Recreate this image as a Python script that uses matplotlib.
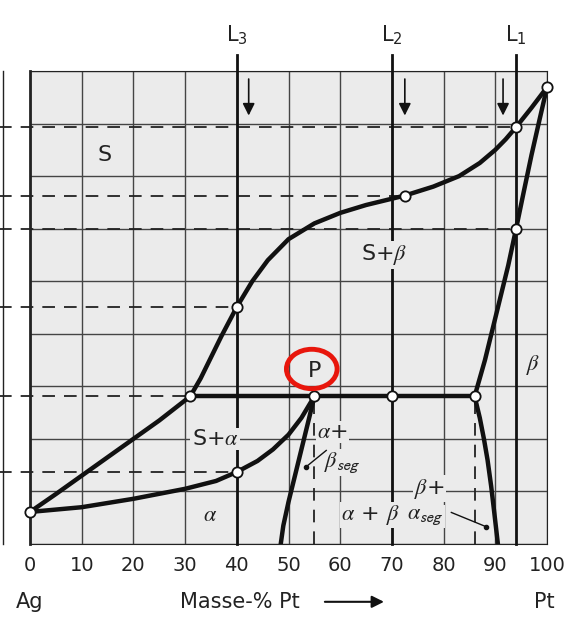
import matplotlib.pyplot as plt
import numpy as np
from matplotlib.patches import Ellipse
from matplotlib.lines import Line2D

plt.rcParams['mathtext.fontset'] = 'stix'

W, H = 574, 617
fig = plt.figure(figsize=(W / 100, H / 100), dpi=100)
ax = fig.add_axes([30 / W, (H - 544) / H, 517 / W, 473 / H])
ax.set_facecolor('#ebebeb')
ax.set_xlim(0, 100)
ax.set_ylim(0, 9)

# curves (x in Masse-% Pt, y in grid rows)
liq_x = [0, 5, 10, 15, 20, 25, 31, 33, 35, 37, 40, 43, 46, 50, 55, 60, 65, 72.5, 78, 83, 87, 90, 92, 94, 97, 100]
liq_y = [0.61, 0.95, 1.3, 1.65, 2.0, 2.35, 2.81, 3.15, 3.55, 3.95, 4.51, 5.0, 5.4, 5.8, 6.1, 6.3, 6.45, 6.63, 6.8, 7.0, 7.25, 7.5, 7.7, 7.93, 8.3, 8.69]
sol_b_x = [100, 98.5, 97, 95.5, 94, 92.5, 91, 89.5, 88, 86]
sol_b_y = [8.69, 8.05, 7.4, 6.7, 5.99, 5.3, 4.7, 4.1, 3.5, 2.81]
sol_a_x = [0, 10, 20, 30, 36, 40, 44, 47, 50, 52.5, 55]
sol_a_y = [0.61, 0.7, 0.86, 1.05, 1.2, 1.37, 1.58, 1.8, 2.08, 2.4, 2.81]
svs_a_x = [55, 54, 53, 52, 51, 50, 49, 48.5]
svs_a_y = [2.81, 2.4, 2.0, 1.6, 1.2, 0.8, 0.35, 0]
svs_b_x = [86, 87, 87.8, 88.5, 89.2, 89.8, 90.5]
svs_b_y = [2.81, 2.4, 2.0, 1.6, 1.1, 0.6, 0]
peri_x = [31, 86]
peri_y = 2.81
pts_x = [0, 100, 94, 72.5, 94, 40, 31, 55, 70, 86, 40]
pts_y = [0.61, 8.69, 7.93, 6.63, 5.99, 4.51, 2.81, 2.81, 2.81, 2.81, 1.37]
dash_y = [7.93, 6.63, 5.99, 4.51, 2.81, 1.37]
dash_end = [94, 72.5, 94, 40, 31, 40]
xticks = [0, 10, 20, 30, 40, 50, 60, 70, 80, 90, 100]
lines_x = [40, 70, 94]
line_names = ['L$_3$', 'L$_2$', 'L$_1$']

for x in np.arange(0, 101, 10):
    ax.axvline(x, color='#444', lw=1, zorder=1)
for y in range(10):
    ax.axhline(y, color='#444', lw=1, zorder=1)
for s in ax.spines.values():
    s.set_color('#222')
ax.spines['left'].set_linewidth(2)
ax.set_xticks([])
ax.set_yticks([])

for y, xe in zip(dash_y, dash_end):
    ax.plot([-10, xe], [y, y], color='#222', lw=1.3, ls=(0, (7, 5)), clip_on=False, zorder=2)
ax.axvline(55, ymax=2.81 / 9, color='#222', lw=1.3, ls=(0, (7, 5)), zorder=2)
ax.axvline(86, ymax=2.81 / 9, color='#222', lw=1.3, ls=(0, (7, 5)), zorder=2)

for xl, nm in zip(lines_x, line_names):
    ax.plot([xl, xl], [0, 9.3], color='#111', lw=2, clip_on=False, zorder=3)
    ax.text(xl, 9.45, nm, ha='center', va='bottom', fontsize=15, color='#222',
            fontfamily='DejaVu Sans', math_fontfamily='dejavusans')
for xa in [42.3, 72.5, 91.5]:
    ax.annotate('', xy=(xa, 8.1), xytext=(xa, 8.9),
                arrowprops=dict(arrowstyle='-|>', color='#111', lw=1.2, mutation_scale=18))

kw = dict(color='#111', lw=3.2, zorder=4, solid_capstyle='round')
ax.plot(liq_x, liq_y, **kw)
ax.plot(sol_b_x, sol_b_y, **kw)
ax.plot(sol_a_x, sol_a_y, **kw)
ax.plot(svs_a_x, svs_a_y, **kw)
ax.plot(svs_b_x, svs_b_y, **kw)
ax.plot(peri_x, [peri_y, peri_y], **kw)
ax.scatter(pts_x, pts_y, s=55, facecolor='white', edgecolor='#111', lw=1.3, zorder=5, clip_on=False)

bb = dict(facecolor='#ebebeb', edgecolor='none', pad=1)
tk = dict(fontsize=16, color='#222', ha='center', va='center', zorder=6)
ax.text(14.5, 7.4, 'S', **tk)
ax.text(68.5, 5.5, r'S+$\beta$', bbox=bb, **tk)
ax.text(97.3, 3.4, r'$\beta$', **tk)
ax.text(55, 3.30, 'P', **tk)
ax.text(35.8, 2.0, r'S+$\alpha$', bbox=bb, **tk)
ax.text(34.8, 0.55, r'$\alpha$', **tk)
ax.text(65.8, 0.55, r'$\alpha$ + $\beta$', bbox=bb, **tk)
ax.text(58.5, 2.13, r'$\alpha$+', bbox=bb, **tk)
ax.text(60.3, 1.55, r'$\beta_{\mathsf{seg}}$', bbox=bb, **tk)
ax.plot([53.3, 57.3], [1.46, 1.78], color='#111', lw=1, zorder=6)
ax.plot(53.3, 1.46, 'o', color='#111', ms=3, zorder=6)
ax.text(77.3, 1.05, r'$\beta$+', bbox=bb, **tk)
ax.text(76.5, 0.52, r'$\alpha_{\mathsf{seg}}$', bbox=bb, **tk)
ax.plot([81.5, 88.2], [0.6, 0.33], color='#111', lw=1, zorder=6)
ax.plot(88.2, 0.33, 'o', color='#111', ms=3, zorder=6)
ax.add_patch(Ellipse((54.5, 3.33), 9.8, 0.75, angle=0, fill=False, ec='#e8160c', lw=3.5, zorder=7))

for x in xticks:
    ax.text(x, -0.4, str(x), ha='center', va='center', fontsize=14, color='#222', clip_on=False)
ax.text(0, -1.1, 'Ag', ha='center', va='center', fontsize=15, color='#222')
ax.text(40.6, -1.1, 'Masse-% Pt', ha='center', va='center', fontsize=15, color='#222')
ax.annotate('', xy=(69, -1.1), xytext=(56.5, -1.1), annotation_clip=False,
            arrowprops=dict(arrowstyle='-|>', color='#111', lw=1.5, mutation_scale=18))
ax.text(99.5, -1.1, 'Pt', ha='center', va='center', fontsize=15, color='#222')

# narrow neighbouring panel at left edge
fig.add_artist(Line2D([3 / W, 3 / W], [(H - 544) / H, (H - 71) / H], color='#222', lw=1))

fig.savefig('out.png', dpi=100)
